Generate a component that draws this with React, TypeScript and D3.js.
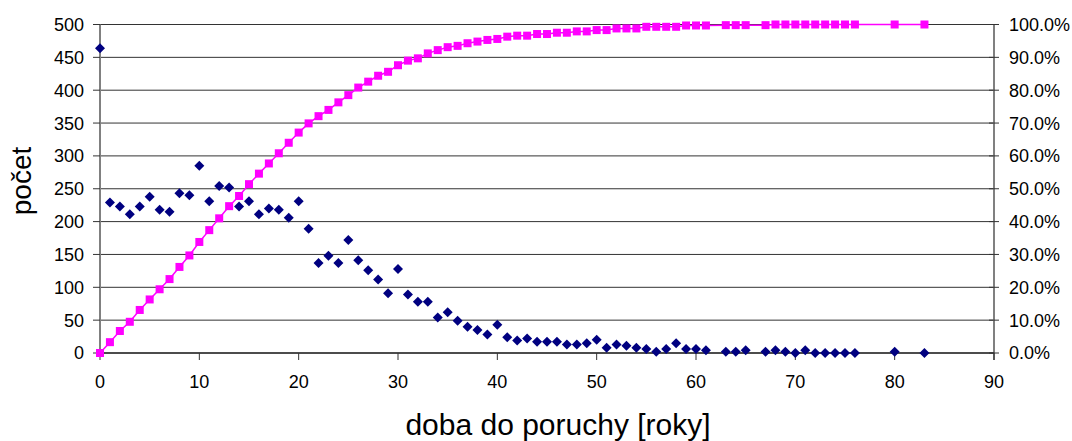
import React from 'react';
import * as d3 from 'd3';

// roky (x) shared by both series
const years = [
  0, 1, 2, 3, 4, 5, 6, 7, 8, 9, 10, 11, 12, 13, 14, 15, 16, 17, 18, 19, 20,
  21, 22, 23, 24, 25, 26, 27, 28, 29, 30, 31, 32, 33, 34, 35, 36, 37, 38, 39, 40,
  41, 42, 43, 44, 45, 46, 47, 48, 49, 50, 51, 52, 53, 54, 55, 56, 57, 58, 59, 60,
  61, 63, 64, 65, 67, 68, 69, 70, 71, 72, 73, 74, 75, 76, 80, 83,
];

// počet poruch
const counts = [
  464, 229, 223, 211, 223, 238, 218, 215, 243, 240, 285,
  231, 254, 252, 223, 231, 211, 220, 218, 206, 231,
  189, 137, 148, 137, 172, 141, 126, 112, 91, 128,
  89, 78, 78, 54, 62, 49, 40, 35, 28, 43,
  24, 19, 22, 17, 17, 17, 13, 13, 15, 20,
  8, 13, 11, 8, 6, 2, 6, 15, 6, 6,
  4, 2, 2, 4, 2, 4, 2, 0, 4, 0, 0, 0, 0, 0, 2, 0,
];

// kumulativní podíl [%]
const cumulative = [
  0, 3.3, 6.7, 9.5, 13.1, 16.3, 19.4, 22.5, 26.2, 29.7, 33.8,
  37.4, 41.0, 44.7, 47.8, 51.4, 54.6, 57.7, 60.8, 64.0, 67.1,
  69.9, 72.1, 74.0, 76.3, 78.5, 80.8, 82.6, 84.4, 85.6, 87.6,
  89.0, 89.7, 91.2, 92.2, 93.1, 93.5, 94.3, 94.8, 95.3, 95.6,
  96.3, 96.6, 96.6, 97.1, 97.1, 97.5, 97.5, 97.9, 97.9, 98.3,
  98.3, 98.8, 98.8, 98.8, 99.3, 99.3, 99.3, 99.3, 99.7, 99.7,
  99.7, 99.8, 99.8, 99.8, 99.8, 100, 100, 100, 100, 100, 100, 100, 100, 100, 100, 100,
];

const xTicks = [0, 10, 20, 30, 40, 50, 60, 70, 80, 90];
const leftTicks = [0, 50, 100, 150, 200, 250, 300, 350, 400, 450, 500];
const rightTicks = [0, 10, 20, 30, 40, 50, 60, 70, 80, 90, 100];

const W = 1072;
const H = 441;
const left = 100;
const right = 994;
const top = 24.5;
const bottom = 353;
const font = '"Liberation Sans", Arial, sans-serif';

const App = () => {
  const x = d3.scaleLinear().domain([0, 90]).range([left, right]);
  const y = d3.scaleLinear().domain([0, 500]).range([bottom, top]);
  const y2 = d3.scaleLinear().domain([0, 100]).range([bottom, top]);

  const line = d3.line<number>()
    .x((_, i) => x(years[i]))
    .y(d => y2(d));

  const diamond = (cx: number, cy: number) =>
    `M${cx},${cy - 5}L${cx + 5},${cy}L${cx},${cy + 5}L${cx - 5},${cy}Z`;

  return (
    <svg width={W} height={H} style={{ position: 'absolute', left: 0, top: 0, background: '#fff' }}>
      {/* grid */}
      {leftTicks.map(t => (
        <line key={'g' + t} x1={left} x2={right} y1={y(t)} y2={y(t)} stroke="#333" strokeWidth={1} />
      ))}
      {/* left axis */}
      <line x1={left} x2={left} y1={top} y2={bottom + 1} stroke="#808080" strokeWidth={2} />
      {leftTicks.map(t => (
        <g key={'l' + t}>
          <line x1={left - 7} x2={left} y1={y(t)} y2={y(t)} stroke="#333" />
          <text x={84} y={y(t)} dy="0.36em" textAnchor="end" fontSize={18} fontFamily={font} fill="#000">{t}</text>
        </g>
      ))}
      {/* right axis */}
      <line x1={right} x2={right} y1={top} y2={bottom + 7} stroke="#808080" strokeWidth={2} />
      {rightTicks.map(t => (
        <g key={'r' + t}>
          <line x1={right - 5} x2={right + 5} y1={y2(t)} y2={y2(t)} stroke="#333" />
          <text x={1009} y={y2(t)} dy="0.36em" textAnchor="start" fontSize={18} fontFamily={font} fill="#000">{t.toFixed(1)}%</text>
        </g>
      ))}
      {/* bottom axis */}
      <line x1={left} x2={right} y1={bottom} y2={bottom} stroke="#333" strokeWidth={1.5} />
      {xTicks.map(t => (
        <g key={'x' + t}>
          <line x1={x(t)} x2={x(t)} y1={bottom} y2={bottom + 7} stroke="#333" />
          <text x={x(t)} y={388} textAnchor="middle" fontSize={18} fontFamily={font} fill="#000">{t}</text>
        </g>
      ))}
      {/* cumulative series */}
      <path d={line(cumulative) || ''} fill="none" stroke="#ff00ff" strokeWidth={1.5} />
      {cumulative.map((v, i) => (
        <rect key={'s' + i} x={x(years[i]) - 4} y={y2(v) - 4} width={8} height={8} fill="#ff00ff" />
      ))}
      {/* counts */}
      {counts.map((v, i) => (
        <path key={'d' + i} d={diamond(x(years[i]), y(v))} fill="#000080" />
      ))}
      {/* titles */}
      <text transform={`translate(31,${181}) rotate(-90)`} textAnchor="middle" fontSize={28} fontFamily={font} fill="#000">počet</text>
      <text x={558} y={435} textAnchor="middle" fontSize={30} fontFamily={font} fill="#000">doba do poruchy [roky]</text>
    </svg>
  );
};

export default App;
